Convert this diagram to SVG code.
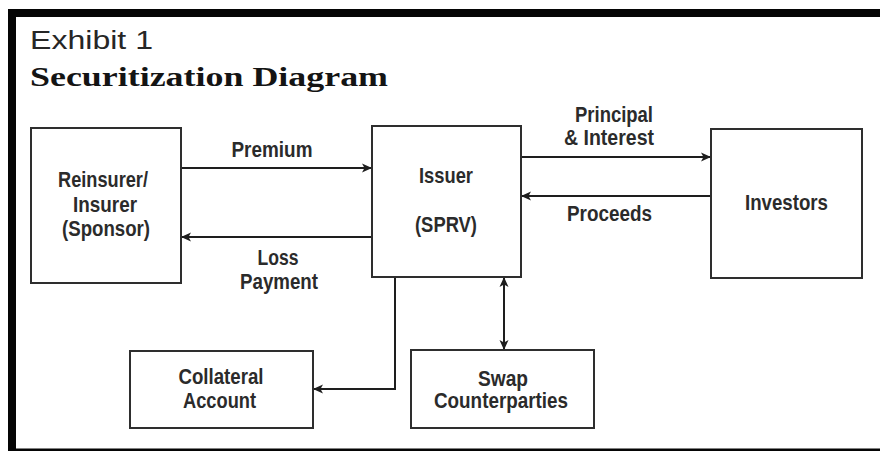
<svg xmlns="http://www.w3.org/2000/svg" width="880" height="451" viewBox="0 0 880 451">
  <defs>
    <marker id="arrow" viewBox="0 0 10 10" refX="10" refY="5" markerWidth="10" markerHeight="10" markerUnits="userSpaceOnUse" orient="auto-start-reverse">
      <path d="M0,0.5 L10,5 L0,9.5 L2.5,5 Z" fill="#1e1e1e"/>
    </marker>
  </defs>
  <style>
    .box { fill: #ffffff; stroke: #2e2e2e; stroke-width: 2; }
    .edge { fill: none; stroke: #1e1e1e; stroke-width: 2; }
    .lbl { font-family: "Liberation Sans", Arial, sans-serif; font-weight: bold; font-size: 21.5px; fill: #2b2b2b; text-anchor: middle; }
    .exhibit { font-family: "Liberation Sans", Arial, sans-serif; font-size: 25px; fill: #262626; }
    .title { font-family: "Liberation Serif", "Times New Roman", serif; font-weight: bold; font-size: 28px; fill: #141414; }
  </style>

  <rect width="880" height="451" fill="#ffffff"/>

  <!-- frame -->
  <g id="frame" fill="#050505">
    <rect x="8" y="9" width="872" height="8"/>
    <rect x="8" y="9" width="8" height="442"/>
    <rect x="8" y="448.5" width="872" height="2.5"/>
  </g>

  <!-- heading -->
  <g id="heading">
    <text class="exhibit" x="30" y="49" textLength="123" lengthAdjust="spacingAndGlyphs">Exhibit 1</text>
    <text class="title" x="30" y="86" textLength="358" lengthAdjust="spacingAndGlyphs">Securitization Diagram</text>
  </g>

  <!-- connectors -->
  <g id="connectors">
    <line class="edge" x1="181" y1="168" x2="372" y2="168" marker-end="url(#arrow)"/>
    <line class="edge" x1="372" y1="237" x2="181" y2="237" marker-end="url(#arrow)"/>
    <line class="edge" x1="521" y1="157" x2="711" y2="157" marker-end="url(#arrow)"/>
    <line class="edge" x1="711" y1="196" x2="521" y2="196" marker-end="url(#arrow)"/>
    <polyline class="edge" points="395,277 395,389 313,389" marker-end="url(#arrow)"/>
    <line class="edge" x1="504" y1="277" x2="504" y2="350" marker-start="url(#arrow)" marker-end="url(#arrow)"/>
  </g>

  <!-- connector labels -->
  <g id="edge-labels">
    <text class="lbl" x="272" y="157" textLength="81" lengthAdjust="spacingAndGlyphs">Premium</text>
    <text class="lbl" x="278" y="265" textLength="41" lengthAdjust="spacingAndGlyphs">Loss</text>
    <text class="lbl" x="279" y="289" textLength="78" lengthAdjust="spacingAndGlyphs">Payment</text>
    <text class="lbl" x="614" y="122" textLength="78" lengthAdjust="spacingAndGlyphs">Principal</text>
    <text class="lbl" x="609" y="145" textLength="90" lengthAdjust="spacingAndGlyphs">&amp; Interest</text>
    <text class="lbl" x="609.5" y="221" textLength="85" lengthAdjust="spacingAndGlyphs">Proceeds</text>
  </g>

  <g id="sponsor">
    <rect class="box" x="31" y="128" width="150" height="155"/>
    <text class="lbl" x="103" y="187" textLength="90" lengthAdjust="spacingAndGlyphs">Reinsurer/</text>
    <text class="lbl" x="105" y="212" textLength="64" lengthAdjust="spacingAndGlyphs">Insurer</text>
    <text class="lbl" x="106" y="236" textLength="88" lengthAdjust="spacingAndGlyphs">(Sponsor)</text>
  </g>

  <g id="issuer">
    <rect class="box" x="372" y="126" width="149" height="151"/>
    <text class="lbl" x="446" y="183" textLength="54" lengthAdjust="spacingAndGlyphs">Issuer</text>
    <text class="lbl" x="446" y="232" textLength="62" lengthAdjust="spacingAndGlyphs">(SPRV)</text>
  </g>

  <g id="investors">
    <rect class="box" x="711" y="129" width="151" height="149"/>
    <text class="lbl" x="786.5" y="210" textLength="83" lengthAdjust="spacingAndGlyphs">Investors</text>
  </g>

  <g id="collateral">
    <rect class="box" x="130" y="351" width="183" height="77"/>
    <text class="lbl" x="221" y="384" textLength="85" lengthAdjust="spacingAndGlyphs">Collateral</text>
    <text class="lbl" x="219.5" y="408" textLength="73" lengthAdjust="spacingAndGlyphs">Account</text>
  </g>

  <g id="swap">
    <rect class="box" x="411" y="350" width="183" height="78"/>
    <text class="lbl" x="503" y="386" textLength="50" lengthAdjust="spacingAndGlyphs">Swap</text>
    <text class="lbl" x="501" y="408" textLength="134" lengthAdjust="spacingAndGlyphs">Counterparties</text>
  </g>
</svg>
